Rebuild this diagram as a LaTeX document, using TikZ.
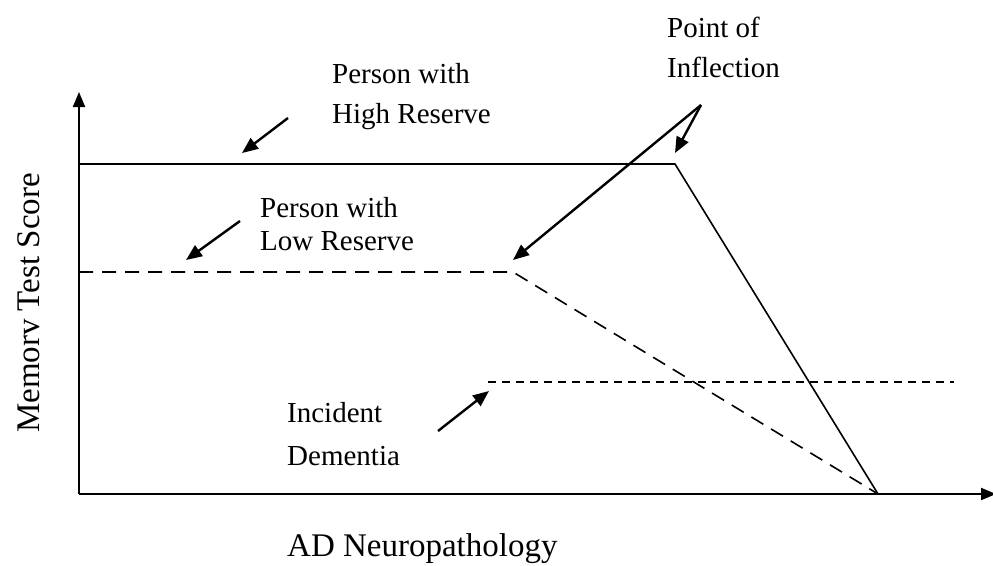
\documentclass[tikz,border=0pt]{standalone}
\usepackage{fontspec}
\setmainfont{Liberation Serif}
\usetikzlibrary{arrows.meta}

\begin{document}
\begin{tikzpicture}[
  x=1pt,
  y=-1pt
]

  \path[use as bounding box] (0,0) rectangle (993,565);

  \tikzstyle{axis}=[draw,line width=2pt,-{Triangle[length=15pt,width=12pt]}]
  \tikzstyle{highline}=[draw,line width=1.6pt]
  \tikzstyle{lowline}=[draw,line width=1.6pt,dash pattern=on 14pt off 9pt]
  \tikzstyle{demline}=[draw,line width=1.6pt,dash pattern=on 8pt off 6pt]
  \tikzstyle{pointer}=[draw,line width=2.4pt,-{Triangle[length=16pt,width=13pt]}]
  \tikzstyle{lab}=[font=\fontsize{29}{40}\selectfont,align=left,inner sep=0pt,anchor=north west]
  \tikzstyle{axlab}=[font=\fontsize{33}{38}\selectfont,inner sep=0pt]

  % axes
  \coordinate (o) at (79,494);
  \coordinate (ytop) at (79,92);
  \coordinate (xend) at (996,494);
  \draw[axis] (o) -- (ytop);
  \draw[axis] (o) -- (xend);

  % curves
  \coordinate (hi0) at (79,164);
  \coordinate (hiknee) at (675,164);
  \coordinate (lo0) at (79,272);
  \coordinate (loknee) at (513,272);
  \coordinate (meet) at (878,494);
  \coordinate (dem0) at (488,382);
  \coordinate (dem1) at (954,382);

  \draw[highline] (hi0) -- (hiknee) -- (meet);
  \draw[lowline] (lo0) -- (loknee) -- (meet);
  \draw[demline] (dem0) -- (dem1);

  % labels
  \node[lab] (hilab) at (332,63) {Person with\\High Reserve};
  \node[lab,font=\fontsize{29}{33}\selectfont] (lolab) at (260,197) {Person with\\Low Reserve};
  \node[lab] (inflab) at (667,17) {Point of\\Inflection};
  \node[lab,font=\fontsize{29}{43}\selectfont] (demlab) at (287,402) {Incident\\Dementia};
  \node[axlab,rotate=90] (ylab) at (29,303) {Memorv Test Score};
  \node[axlab,anchor=base west] (xlab) at (287,556) {AD Neuropathology};

  % pointers
  \coordinate (hiptr) at (288,118);
  \coordinate (hitip) at (242,153);
  \coordinate (loptr) at (240,221);
  \coordinate (lotip) at (186,260);
  \coordinate (infptr) at (701,105);
  \coordinate (inftipa) at (675,153);
  \coordinate (inftipb) at (513,260);
  \coordinate (demptr) at (438,431);
  \coordinate (demtip) at (489,391);

  \draw[pointer] (hiptr) -- (hitip);
  \draw[pointer] (loptr) -- (lotip);
  \draw[pointer] (infptr) -- (inftipa);
  \draw[pointer] (infptr) -- (inftipb);
  \draw[pointer] (demptr) -- (demtip);

\end{tikzpicture}
\end{document}
